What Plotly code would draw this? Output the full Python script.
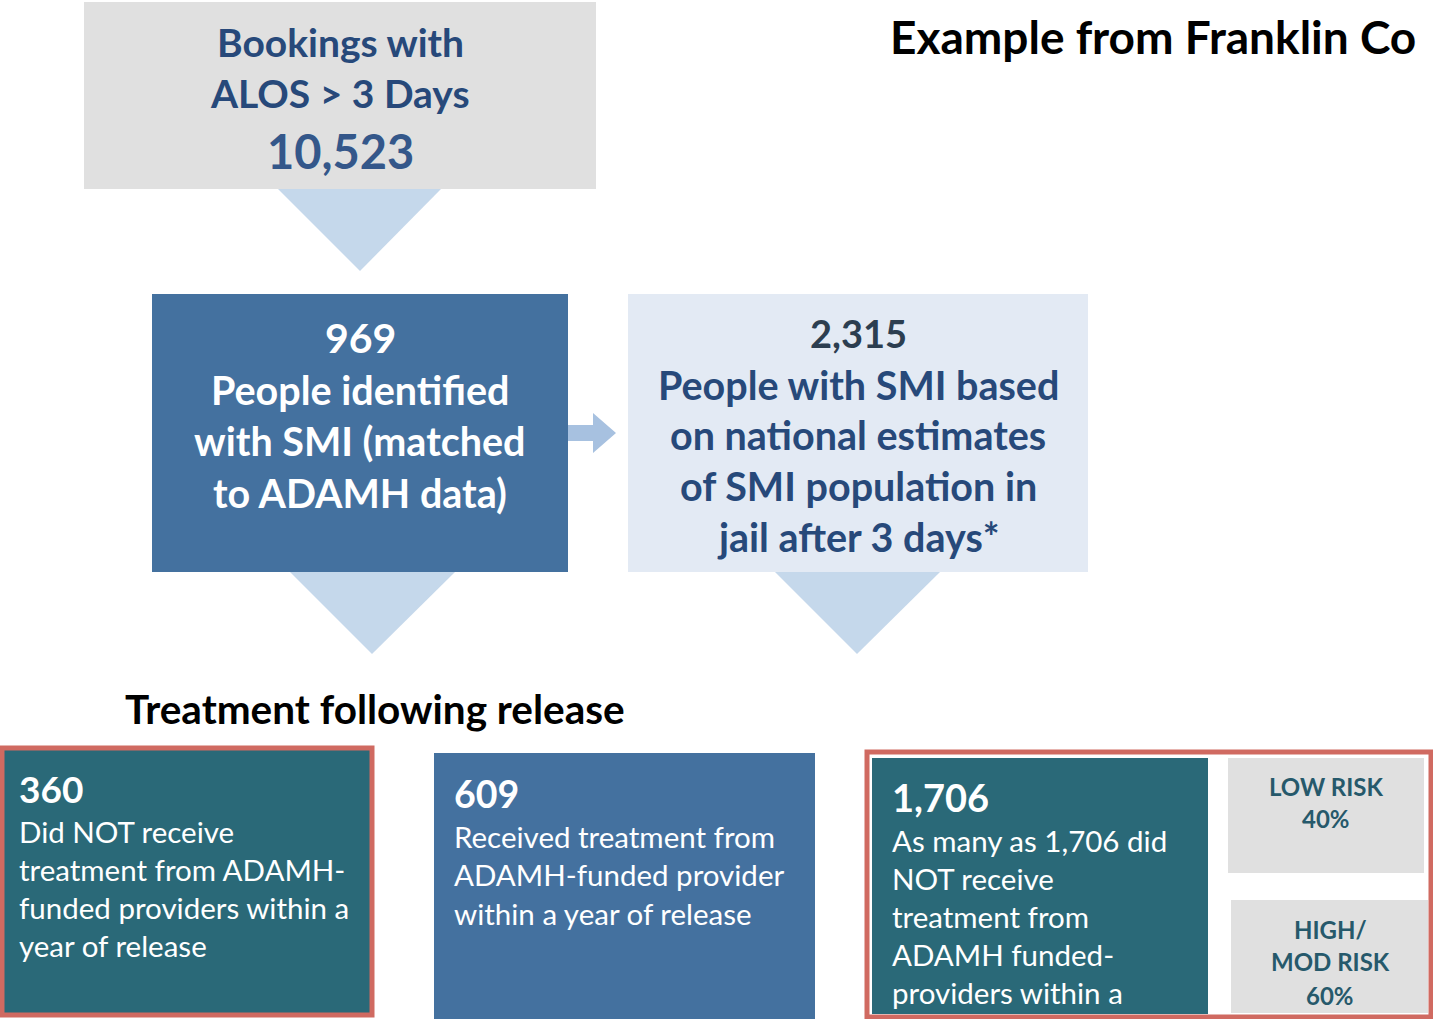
import plotly.graph_objects as go

# ---- data ----
stage_counts = [10523, 969, 2315]
stage_lines = [
    ["Bookings with", "ALOS &gt; 3 Days"],
    ["People identified", "with SMI (matched", "to ADAMH data)"],
    ["People with SMI based", "on national estimates", "of SMI population in", "jail after 3 days*"],
]
outcome_counts = [360, 609, 1706]
outcome_labels = [
    ["Did NOT receive", "treatment from ADAMH-", "funded providers within a", "year of release"],
    ["Received treatment from", "ADAMH-funded provider", "within a year of release"],
    ["As many as 1,706 did", "NOT receive", "treatment from", "ADAMH funded-", "providers within a"],
]
risk_labels = [["LOW RISK"], ["HIGH/", "MOD RISK"]]
risk_pct = [40, 60]
title_text = "Example from Franklin Co"
section_text = "Treatment following release"

W, H = 1433, 1019
FONT = "Lato"
GRAY = "#e0e0e0"
STEEL = "#44719f"
TEAL = "#2a6978"
PALE = "#e3eaf4"
LIGHTBLUE = "#c5d8eb"
ARROW = "#a7c1e0"
NAVY = "#27497a"
RED = "#d06a61"
WHITE = "#ffffff"

fig = go.Figure()
shapes = []
ann = []


def rect(x0, y0, x1, y1, fill, line=None, lw=0):
    shapes.append(dict(type="rect", xref="x", yref="y", x0=x0, y0=y0, x1=x1, y1=y1,
                       fillcolor=fill, line=dict(color=line or fill, width=lw), layer="below"))


def poly(pts, fill):
    path = "M " + " L ".join(f"{x},{y}" for x, y in pts) + " Z"
    shapes.append(dict(type="path", xref="x", yref="y", path=path, fillcolor=fill,
                       line=dict(width=0), layer="below"))


def text(x, y, s, size, color, bold=False, anchor="center"):
    ann.append(dict(x=x, y=y, xref="x", yref="y", text=f"<b>{s}</b>" if bold else s,
                    showarrow=False, xanchor=anchor, yanchor="middle",
                    font=dict(family=FONT, size=size, color=color)))


# top box
rect(84, 2, 596, 189, GRAY)
for i, s in enumerate(stage_lines[0]):
    text(340, 42 + 51 * i, s, 39, NAVY, True)
text(340, 151, f"{stage_counts[0]:,}", 47, "#34578a", True)
poly([(278, 189), (441, 189), (360, 271)], LIGHTBLUE)

# 969 box
rect(152, 294, 568, 572, STEEL)
text(360, 337, f"{stage_counts[1]:,}", 41, WHITE, True)
for i, s in enumerate(stage_lines[1]):
    text(360, 389 + 51.5 * i, s, 39.5, WHITE, True)

# arrow
poly([(568, 425), (593, 425), (593, 413), (616, 433), (593, 453), (593, 441), (568, 441)], ARROW)

# 2,315 box
rect(628, 294, 1088, 572, PALE)
text(858, 333, f"{stage_counts[2]:,}", 38, "#2c3e50", True)
for i, s in enumerate(stage_lines[2]):
    text(858, 384 + 50.7 * i, s, 39.5, NAVY, True)

# down triangles
poly([(290, 572), (455, 572), (372, 654)], LIGHTBLUE)
poly([(775, 572), (940, 572), (857, 654)], LIGHTBLUE)

# title & section heading
text(888, 36, title_text, 46, "#000000", True, anchor="left")
text(123, 708, section_text, 40.5, "#000000", True, anchor="left")

# outcome 1
rect(2, 748, 372, 1015, TEAL, RED, 5)
text(17, 788, f"{outcome_counts[0]:,}", 37, WHITE, True, anchor="left")
for i, s in enumerate(outcome_labels[0]):
    text(17, 831 + 38.3 * i, s, 29.5, WHITE, anchor="left")

# outcome 2
rect(434, 753, 815, 1019, STEEL)
text(452, 793, f"{outcome_counts[1]:,}", 37.5, WHITE, True, anchor="left")
for i, s in enumerate(outcome_labels[1]):
    text(452, 836 + 38.5 * i, s, 29.5, WHITE, anchor="left")

# outcome 3 with risk split
rect(867, 752, 1431, 1017, WHITE, RED, 5)
rect(872, 758, 1208, 1014, TEAL)
text(890, 797, f"{outcome_counts[2]:,}", 38, WHITE, True, anchor="left")
for i, s in enumerate(outcome_labels[2]):
    text(890, 840 + 38 * i, s, 29.5, WHITE, anchor="left")

rect(1228, 758, 1424, 873, GRAY)
rect(1231, 900, 1428, 1013, GRAY)
risk_y = [[786, 818], [929, 961, 995]]
risk_x = [1326, 1330]
for k in range(2):
    lines = risk_labels[k] + [f"{risk_pct[k]}%"]
    for s, y in zip(lines, risk_y[k]):
        text(risk_x[k], y, s, 24, "#26596b", True)

fig.update_layout(
    width=W, height=H, margin=dict(l=0, r=0, t=0, b=0),
    paper_bgcolor="white", plot_bgcolor="white",
    xaxis=dict(range=[0, W], visible=False, fixedrange=True),
    yaxis=dict(range=[H, 0], visible=False, fixedrange=True),
    shapes=shapes, annotations=ann, showlegend=False,
)
fig.write_html("out.html", config={"displayModeBar": False},
               post_script="document.body.style.margin='0';document.body.style.overflow='hidden';")
